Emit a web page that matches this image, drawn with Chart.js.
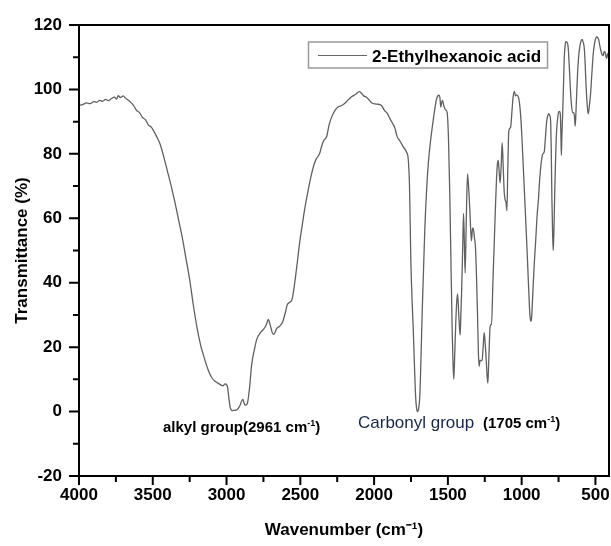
<!DOCTYPE html>
<html>
<head>
<meta charset="utf-8">
<script src="https://cdn.jsdelivr.net/npm/chart.js@4.4.1/dist/chart.umd.min.js"></script>
<style>
html,body{margin:0;padding:0;background:#fff;}
#wrap{width:611px;height:546px;}
</style>
</head>
<body>
<div id="wrap"><canvas id="c" width="611" height="546"></canvas></div>
<script>
const wavenumber = [
4000,3975,3950,3925,3900,3880,3860,3840,3820,3800,3780,3760,3745,3735,3720,3700,3685,3670,3650,3630,
3610,3590,3570,3550,3530,3510,3500,3475,3450,3425,3400,3375,3350,3325,3300,3275,3250,3225,3200,3175,
3150,3125,3100,3075,3050,3025,3010,2995,2985,2975,2961,2945,2930,2910,2890,2875,2860,2845,2830,2810,
2795,2770,2745,2730,2717,2705,2690,2679,2660,2640,2620,2600,2590,2570,2555,2537,2520,2503,2485,2469,
2450,2424,2405,2390,2370,2356,2340,2322,2305,2288,2265,2243,2220,2198,2175,2153,2125,2101,2085,2070,
2051,2035,2015,1995,1970,1950,1930,1910,1894,1875,1859,1845,1825,1800,1780,1768,1760,1751,1743,1735,
1727,1719,1712,1705,1698,1690,1682,1674,1665,1656,1645,1633,1620,1606,1590,1577,1561,1554,1548,1542,
1536,1528,1520,1512,1505,1496,1487,1479,1471,1465,1460,1454,1447,1440,1434,1426,1417,1412,1407,1400,
1394,1388,1383,1375,1367,1360,1351,1345,1340,1334,1329,1320,1313,1306,1299,1293,1288,1282,1277,1268,
1261,1254,1247,1240,1234,1229,1222,1215,1210,1204,1195,1186,1178,1170,1164,1159,1153,1146,1139,1132,
1125,1118,1112,1106,1100,1094,1087,1075,1066,1058,1049,1042,1035,1022,1014,1006,998,990,979,967,
955,944,938,933,924,915,905,895,886,877,868,858,847,839,831,822,816,810,804,799,
795,790,786,781,775,769,763,756,749,743,738,734,731,727,722,716,711,705,700,692,
685,677,669,662,655,648,643,637,632,628,620,613,606,598,590,583,576,570,565,557,
549,542,533,524,515,505,497,490,484,477,470,463,455,447,441,436,430,424,418,413,
410,408
];
const transmittance = [
95.0,95.3,95.8,95.6,96.2,96.0,96.6,96.3,96.9,96.5,97.2,97.6,97.0,98.1,97.5,98.0,97.3,96.8,96.0,95.0,
93.5,92.8,91.3,90.6,89.0,88.3,87.6,85.5,83.0,79.0,74.5,70.0,65.0,59.5,54.0,47.5,41.0,33.0,26.0,20.5,
16.5,13.0,10.5,9.3,8.6,8.0,8.6,8.0,4.5,1.2,0.3,0.4,0.5,1.8,3.8,2.0,2.4,7.0,14.5,19.5,
22.5,24.5,25.8,27.0,28.6,27.0,24.5,24.0,25.8,26.5,27.8,31.0,33.0,34.0,35.0,40.3,46.5,53.0,58.5,63.2,
68.0,73.7,77.0,78.6,80.0,82.3,84.2,85.3,89.0,91.4,93.5,94.6,95.0,95.7,96.8,97.7,98.5,99.3,98.8,98.0,
97.6,96.8,95.8,95.5,95.4,95.0,93.5,92.5,91.0,89.5,88.0,85.5,84.0,82.0,80.5,78.0,70.0,47.0,35.0,26.0,
15.0,5.0,1.0,0.0,1.0,5.0,17.0,31.0,44.0,57.0,68.0,76.8,83.0,88.2,93.5,97.0,98.2,97.5,94.5,96.0,
96.6,95.0,94.0,93.5,92.8,85.0,67.4,46.0,25.7,15.0,10.0,17.0,27.0,34.0,36.5,30.0,23.7,30.0,37.0,50.0,
61.5,52.0,43.0,60.0,73.8,70.0,62.5,56.0,53.0,56.5,57.0,54.0,51.0,42.0,30.0,18.0,14.0,16.0,15.8,16.0,
20.0,24.5,21.0,16.0,11.0,8.8,17.0,25.7,27.0,27.0,40.0,52.0,63.0,72.6,77.0,78.0,75.0,71.0,76.0,83.5,
76.0,68.0,65.8,65.0,62.3,75.0,87.2,88.2,93.0,97.6,99.4,98.0,98.3,97.6,95.5,91.4,85.0,77.0,66.0,54.0,
41.0,30.0,28.0,29.0,37.0,45.5,53.0,61.0,66.0,72.6,77.0,79.9,80.6,85.0,89.8,92.0,92.5,92.0,90.5,80.0,
66.0,55.0,50.0,57.0,69.5,80.0,87.2,91.0,93.0,93.2,92.4,86.0,79.5,86.0,92.4,102.0,110.0,113.8,114.8,114.6,
113.2,107.0,99.7,95.0,92.8,92.8,92.0,88.6,93.0,97.6,106.0,110.5,113.2,115.0,115.5,114.6,113.0,108.5,102.8,96.0,
92.4,94.5,98.6,105.0,111.0,114.5,116.0,116.3,116.0,115.3,113.5,112.0,110.8,110.5,111.7,111.7,110.5,109.6,111.0,111.2,
109.0,107.5
];
const xTickValues = [4000,3500,3000,2500,2000,1500,1000,500];
const xMinorTickValues = [3750,3250,2750,2250,1750,1250,750];
const yTickValues = [-20,0,20,40,60,80,100,120];
const yMinorTickValues = [-10,10,30,50,70,90,110];
const seriesLabel = '2-Ethylhexanoic acid';
const xTitle = 'Wavenumber (cm\u207B\u00B9)';
const yTitle = 'Transmittance (%)';

const FONT = "'Liberation Sans', Arial, sans-serif";

function drawRuns(ctx, x, y, runs) {
  let cx = x;
  runs.forEach(r => {
    ctx.font = r.font;
    ctx.fillStyle = r.color || '#000';
    ctx.fillText(r.text, cx, y - (r.rise || 0));
    cx += ctx.measureText(r.text).width;
  });
}

const decorPlugin = {
  id: 'decor',
  afterDatasetsDraw(chart) {
    const {ctx, chartArea: a, scales: {x, y}} = chart;
    ctx.save();
    ctx.strokeStyle = '#000';
    ctx.lineWidth = 2;
    ctx.strokeRect(a.left, a.top, a.right - a.left, a.bottom - a.top);
    ctx.beginPath();
    xTickValues.forEach(v => { const p = x.getPixelForValue(v); ctx.moveTo(p, a.bottom); ctx.lineTo(p, a.bottom + 9); });
    xMinorTickValues.forEach(v => { const p = x.getPixelForValue(v); ctx.moveTo(p, a.bottom); ctx.lineTo(p, a.bottom + 6); });
    yTickValues.forEach(v => { const p = y.getPixelForValue(v); ctx.moveTo(a.left, p); ctx.lineTo(a.left - 10, p); });
    yMinorTickValues.forEach(v => { const p = y.getPixelForValue(v); ctx.moveTo(a.left, p); ctx.lineTo(a.left - 6, p); });
    ctx.stroke();

    // legend
    ctx.strokeStyle = '#999';
    ctx.lineWidth = 1.5;
    ctx.strokeRect(308.5, 42, 239, 26);
    ctx.strokeStyle = '#666';
    ctx.lineWidth = 1;
    ctx.beginPath();
    ctx.moveTo(318, 55.5); ctx.lineTo(367, 55.5);
    ctx.stroke();
    ctx.textBaseline = 'alphabetic';
    ctx.textAlign = 'left';
    ctx.fillStyle = '#000';
    ctx.font = "bold 17px " + FONT;
    ctx.fillText(seriesLabel, 372, 62);

    // annotations
    const bold15 = "bold 15px " + FONT;
    const sup = "bold 9px " + FONT;
    drawRuns(ctx, 163, 432, [
      {text: 'alkyl group(2961 cm', font: bold15},
      {text: '-1', font: sup, rise: 6},
      {text: ')', font: bold15}
    ]);
    drawRuns(ctx, 358, 428, [
      {text: 'Carbonyl group', font: "17px " + FONT, color: '#17284a'}
    ]);
    drawRuns(ctx, 483, 428, [
      {text: '(1705 cm', font: bold15},
      {text: '-1', font: sup, rise: 6},
      {text: ')', font: bold15}
    ]);
    ctx.restore();
  }
};

new Chart(document.getElementById('c'), {
  type: 'line',
  data: {
    datasets: [{
      label: seriesLabel,
      data: wavenumber.map((w, i) => ({x: w, y: transmittance[i]})),
      borderColor: '#606060',
      borderWidth: 1.3,
      pointRadius: 0,
      fill: false,
      cubicInterpolationMode: 'monotone'
    }]
  },
  options: {
    responsive: false,
    animation: false,
    devicePixelRatio: 1,
    layout: {padding: {left: 0, right: 2, top: 25, bottom: 0}},
    plugins: {legend: {display: false}, tooltip: {enabled: false}},
    scales: {
      x: {
        type: 'linear',
        reverse: true,
        min: 408,
        max: 4000,
        afterFit: s => { s.height = 70; },
        afterBuildTicks: s => { s.ticks = xTickValues.map(v => ({value: v})); },
        grid: {display: false, drawTicks: true, tickLength: 9},
        border: {display: false},
        ticks: {
          autoSkip: false, maxRotation: 0, padding: 0,
          color: '#000',
          callback: v => String(v),
          font: {family: FONT, size: 17, weight: 'bold'}
        },
        title: {
          display: true, text: xTitle, color: '#000',
          font: {family: FONT, size: 17, weight: 'bold'},
          padding: {top: 0, bottom: 5}
        }
      },
      y: {
        type: 'linear',
        min: -20,
        max: 120,
        afterFit: s => { s.width = 79; },
        afterBuildTicks: s => { s.ticks = yTickValues.map(v => ({value: v})); },
        grid: {display: false, drawTicks: true, tickLength: 9},
        border: {display: false},
        ticks: {
          autoSkip: false, padding: 8,
          color: '#000',
          callback: v => String(v),
          font: {family: FONT, size: 17, weight: 'bold'}
        },
        title: {
          display: true, text: yTitle, color: '#000',
          font: {family: FONT, size: 17, weight: 'bold'},
          padding: {top: 12, bottom: 0}
        }
      }
    }
  },
  plugins: [decorPlugin]
});
</script>
</body>
</html>
